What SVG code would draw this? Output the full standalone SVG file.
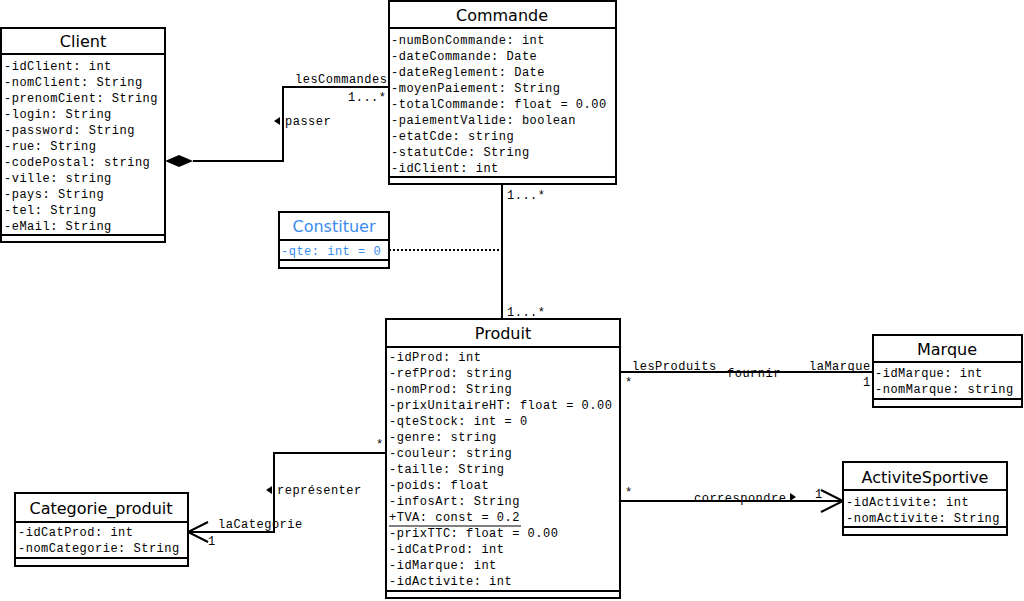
<svg xmlns="http://www.w3.org/2000/svg" width="1024" height="601" viewBox="0 0 1024 601">
<style>
.box{fill:#fff;stroke:#000;stroke-width:2}
.sep{stroke:#000;stroke-width:2}
.ttl{font-family:"DejaVu Sans",sans-serif;font-size:16px;text-anchor:middle;fill:#000}
.at{font-family:"Liberation Mono",monospace;font-size:12px;letter-spacing:0.5px;fill:#000}
.blue{fill:#3a8cf0}
.ln{fill:none;stroke:#000;stroke-width:2}
.lb{font-family:"Liberation Mono",monospace;font-size:12px;letter-spacing:0.5px;fill:#000}
</style>
<rect width="1024" height="601" fill="#fff"/>
<g id="connectors">
<text class="lb" x="727" y="377">fournir</text>
<text class="lb" x="694" y="502">correspondre</text>
<polyline class="ln" points="193,161 283,161 283,87 389,87"/>
<polygon points="165,161 179,155 193,161 179,167" fill="#000"/>
<text class="lb" x="295" y="83">lesCommandes</text>
<text class="lb" x="348" y="101">1...*</text>
<polygon points="274,121 280,117 280,125" fill="#000"/>
<text class="lb" x="285" y="125">passer</text>
<line class="ln" x1="502" y1="184" x2="502" y2="319"/>
<line x1="389" y1="250" x2="502" y2="250" stroke="#000" stroke-width="2" stroke-dasharray="2,2"/>
<text class="lb" x="507" y="199">1...*</text>
<text class="lb" x="507" y="316">1...*</text>
<line class="ln" x1="620" y1="372" x2="873" y2="372"/>
<text class="lb" x="632" y="370">lesProduits</text>
<text class="lb" x="809" y="370">laMarque</text>
<text class="lb" x="625" y="386">*</text>
<text class="lb" x="863" y="386">1</text>
<line class="ln" x1="620" y1="501" x2="843" y2="501"/>
<polyline class="ln" points="821,490 843,501 821,512"/>
<polygon points="790,493 796,497 790,501" fill="#000"/>
<text class="lb" x="625" y="496">*</text>
<text class="lb" x="815" y="498">1</text>
<polyline class="ln" points="386,453 274,453 274,532 188,532"/>
<polyline class="ln" points="208,522 188,532 208,542"/>
<text class="lb" x="376" y="448">*</text>
<polygon points="266,490 272,486 272,494" fill="#000"/>
<text class="lb" x="277" y="494">représenter</text>
<text class="lb" x="218" y="528">laCategorie</text>
<text class="lb" x="208" y="545">1</text>
</g>
<g id="client">
<rect class="box" x="1" y="28" width="164" height="214"/>
<line class="sep" x1="1" y1="54" x2="165" y2="54"/>
<line class="sep" x1="1" y1="235" x2="165" y2="235"/>
<text class="ttl" x="83" y="47">Client</text>
<text class="at" x="4" y="70">-idClient: int</text>
<text class="at" x="4" y="86">-nomClient: String</text>
<text class="at" x="4" y="102">-prenomCient: String</text>
<text class="at" x="4" y="118">-login: String</text>
<text class="at" x="4" y="134">-password: String</text>
<text class="at" x="4" y="150">-rue: String</text>
<text class="at" x="4" y="166">-codePostal: string</text>
<text class="at" x="4" y="182">-ville: string</text>
<text class="at" x="4" y="198">-pays: String</text>
<text class="at" x="4" y="214">-tel: String</text>
<text class="at" x="4" y="230">-eMail: String</text>
</g>
<g id="commande">
<rect class="box" x="389" y="1" width="227" height="183"/>
<line class="sep" x1="389" y1="28" x2="616" y2="28"/>
<line class="sep" x1="389" y1="177" x2="616" y2="177"/>
<text class="ttl" x="502" y="21">Commande</text>
<text class="at" x="391" y="44">-numBonCommande: int</text>
<text class="at" x="391" y="60">-dateCommande: Date</text>
<text class="at" x="391" y="76">-dateReglement: Date</text>
<text class="at" x="391" y="92">-moyenPaiement: String</text>
<text class="at" x="391" y="108">-totalCommande: float = 0.00</text>
<text class="at" x="391" y="124">-paiementValide: boolean</text>
<text class="at" x="391" y="140">-etatCde: string</text>
<text class="at" x="391" y="156">-statutCde: String</text>
<text class="at" x="391" y="172">-idClient: int</text>
</g>
<g id="constituer">
<rect class="box" x="279" y="212" width="110" height="56"/>
<line class="sep" x1="279" y1="240" x2="389" y2="240"/>
<line class="sep" x1="279" y1="260" x2="389" y2="260"/>
<text class="ttl blue" x="334" y="232">Constituer</text>
<text class="at blue" x="281" y="255">-qte: int = 0</text>
</g>
<g id="produit">
<rect class="box" x="386" y="319" width="234" height="279"/>
<line class="sep" x1="386" y1="347" x2="620" y2="347"/>
<line class="sep" x1="386" y1="591" x2="620" y2="591"/>
<text class="ttl" x="503" y="339">Produit</text>
<text class="at" x="389" y="361">-idProd: int</text>
<text class="at" x="389" y="377">-refProd: string</text>
<text class="at" x="389" y="393">-nomProd: String</text>
<text class="at" x="389" y="409">-prixUnitaireHT: float = 0.00</text>
<text class="at" x="389" y="425">-qteStock: int = 0</text>
<text class="at" x="389" y="441">-genre: string</text>
<text class="at" x="389" y="457">-couleur: string</text>
<text class="at" x="389" y="473">-taille: String</text>
<text class="at" x="389" y="489">-poids: float</text>
<text class="at" x="389" y="505">-infosArt: String</text>
<text class="at" x="389" y="521">+TVA: const = 0.2</text>
<line x1="389" y1="526" x2="521" y2="526" stroke="#000" stroke-width="1"/>
<text class="at" x="389" y="537">-prixTTC: float = 0.00</text>
<text class="at" x="389" y="553">-idCatProd: int</text>
<text class="at" x="389" y="569">-idMarque: int</text>
<text class="at" x="389" y="585">-idActivite: int</text>
</g>
<g id="marque">
<rect class="box" x="873" y="335" width="149" height="72"/>
<line class="sep" x1="873" y1="362" x2="1022" y2="362"/>
<line class="sep" x1="873" y1="399" x2="1022" y2="399"/>
<text class="ttl" x="947" y="355">Marque</text>
<text class="at" x="875" y="377">-idMarque: int</text>
<text class="at" x="875" y="393">-nomMarque: string</text>
</g>
<g id="activiteSportive">
<rect class="box" x="843" y="462" width="164" height="73"/>
<line class="sep" x1="843" y1="490" x2="1007" y2="490"/>
<line class="sep" x1="843" y1="527" x2="1007" y2="527"/>
<text class="ttl" x="925" y="483">ActiviteSportive</text>
<text class="at" x="846" y="506">-idActivite: int</text>
<text class="at" x="846" y="522">-nomActivite: String</text>
</g>
<g id="categorie_produit">
<rect class="box" x="15" y="493" width="173" height="73"/>
<line class="sep" x1="15" y1="522" x2="188" y2="522"/>
<line class="sep" x1="15" y1="558" x2="188" y2="558"/>
<text class="ttl" x="101" y="514">Categorie_produit</text>
<text class="at" x="18" y="536">-idCatProd: int</text>
<text class="at" x="18" y="552">-nomCategorie: String</text>
</g>
</svg>
